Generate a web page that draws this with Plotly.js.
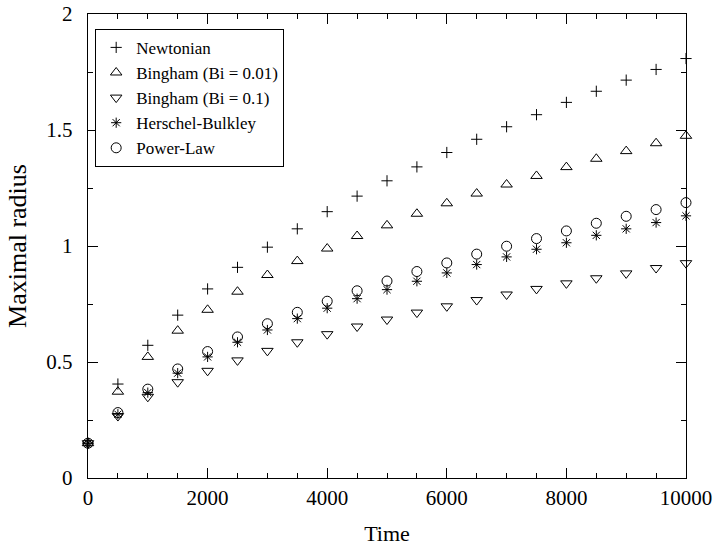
<!DOCTYPE html>
<html>
<head>
<meta charset="utf-8">
<script src="https://cdn.plot.ly/plotly-3.0.1.min.js"></script>
<style>html,body{margin:0;padding:0;background:#fff;}#chart{width:713px;height:546px;}</style>
</head>
<body>
<div id="chart"></div>
<script>
const time = [0,500,1000,1500,2000,2500,3000,3500,4000,4500,5000,5500,6000,6500,7000,7500,8000,8500,9000,9500,10000];
const newtonian = [0.15,0.405,0.572,0.702,0.815,0.908,0.995,1.074,1.148,1.215,1.281,1.341,1.403,1.460,1.514,1.566,1.619,1.667,1.715,1.761,1.808];
const bingham001 = [0.15,0.372,0.522,0.635,0.725,0.803,0.875,0.935,0.989,1.043,1.089,1.139,1.184,1.226,1.265,1.302,1.340,1.376,1.409,1.443,1.475];
const bingham01 = [0.15,0.267,0.350,0.413,0.462,0.507,0.548,0.585,0.620,0.653,0.683,0.713,0.740,0.767,0.791,0.815,0.839,0.861,0.882,0.905,0.926];
const herschel = [0.15,0.275,0.368,0.452,0.522,0.585,0.638,0.687,0.732,0.773,0.812,0.848,0.884,0.920,0.953,0.986,1.014,1.046,1.074,1.101,1.130];
const powerLaw = [0.15,0.282,0.383,0.470,0.545,0.608,0.665,0.714,0.762,0.807,0.849,0.890,0.927,0.965,0.999,1.032,1.065,1.098,1.128,1.157,1.187];
const seriesNames = ["Newtonian","Bingham (Bi = 0.01)","Bingham (Bi = 0.1)","Herschel-Bulkley","Power-Law"];
const seriesData = [newtonian,bingham001,bingham01,herschel,powerLaw];
const symbols = ["cross-thin-open","triangle-up-open","triangle-down-open","asterisk-open","circle-open"];
const sizes = [8,10,10,8.5,10];

const font = "'Liberation Serif', 'Times New Roman', serif";
const traces = seriesData.map((ys,i)=>({
  x: time, y: ys, name: seriesNames[i], type: "scatter", mode: "markers", cliponaxis: false,
  marker: {symbol: symbols[i], size: sizes[i], color: "#000", line: {color: "#000", width: 1}}
}));

const axisCommon = {
  showgrid: false, zeroline: false, showline: true, linecolor: "#000", linewidth: 1.3,
  mirror: "allticks", ticks: "inside", ticklen: 10, tickwidth: 1, tickcolor: "#000",
  tickfont: {family: font, size: 21, color: "#000"}, tickformat: "d"
};
const layout = {
  width: 713, height: 546,
  margin: {l: 88, r: 27, t: 14, b: 68},
  paper_bgcolor: "#fff", plot_bgcolor: "#fff",
  font: {family: font, color: "#000"},
  showlegend: true,
  legend: {x: 0.012, y: 0.968, xanchor: "left", yanchor: "top", bordercolor: "#000", borderwidth: 1,
           bgcolor: "#fff", font: {family: font, size: 17, color: "#000"}, tracegroupgap: 0, itemwidth: 30},
  xaxis: Object.assign({}, axisCommon, {
    range: [0, 10000], dtick: 2000, tick0: 0,
    minor: {dtick: 500, ticks: "inside", ticklen: 5, tickcolor: "#000", tickwidth: 1},
    title: {text: "Time", font: {family: font, size: 22, color: "#000"}, standoff: 18},
    ticklabelstandoff: 0
  }),
  yaxis: Object.assign({}, axisCommon, {
    range: [0, 2], dtick: 0.5, tick0: 0, tickformat: "",
    minor: {dtick: 0.25, ticks: "inside", ticklen: 5, tickcolor: "#000", tickwidth: 1},
    title: {text: "Maximal radius", font: {family: font, size: 26, color: "#000"}, standoff: 12},
    ticklabelstandoff: 10
  })
};
Plotly.newPlot("chart", traces, layout, {displayModeBar: false, staticPlot: true});
</script>
</body>
</html>
